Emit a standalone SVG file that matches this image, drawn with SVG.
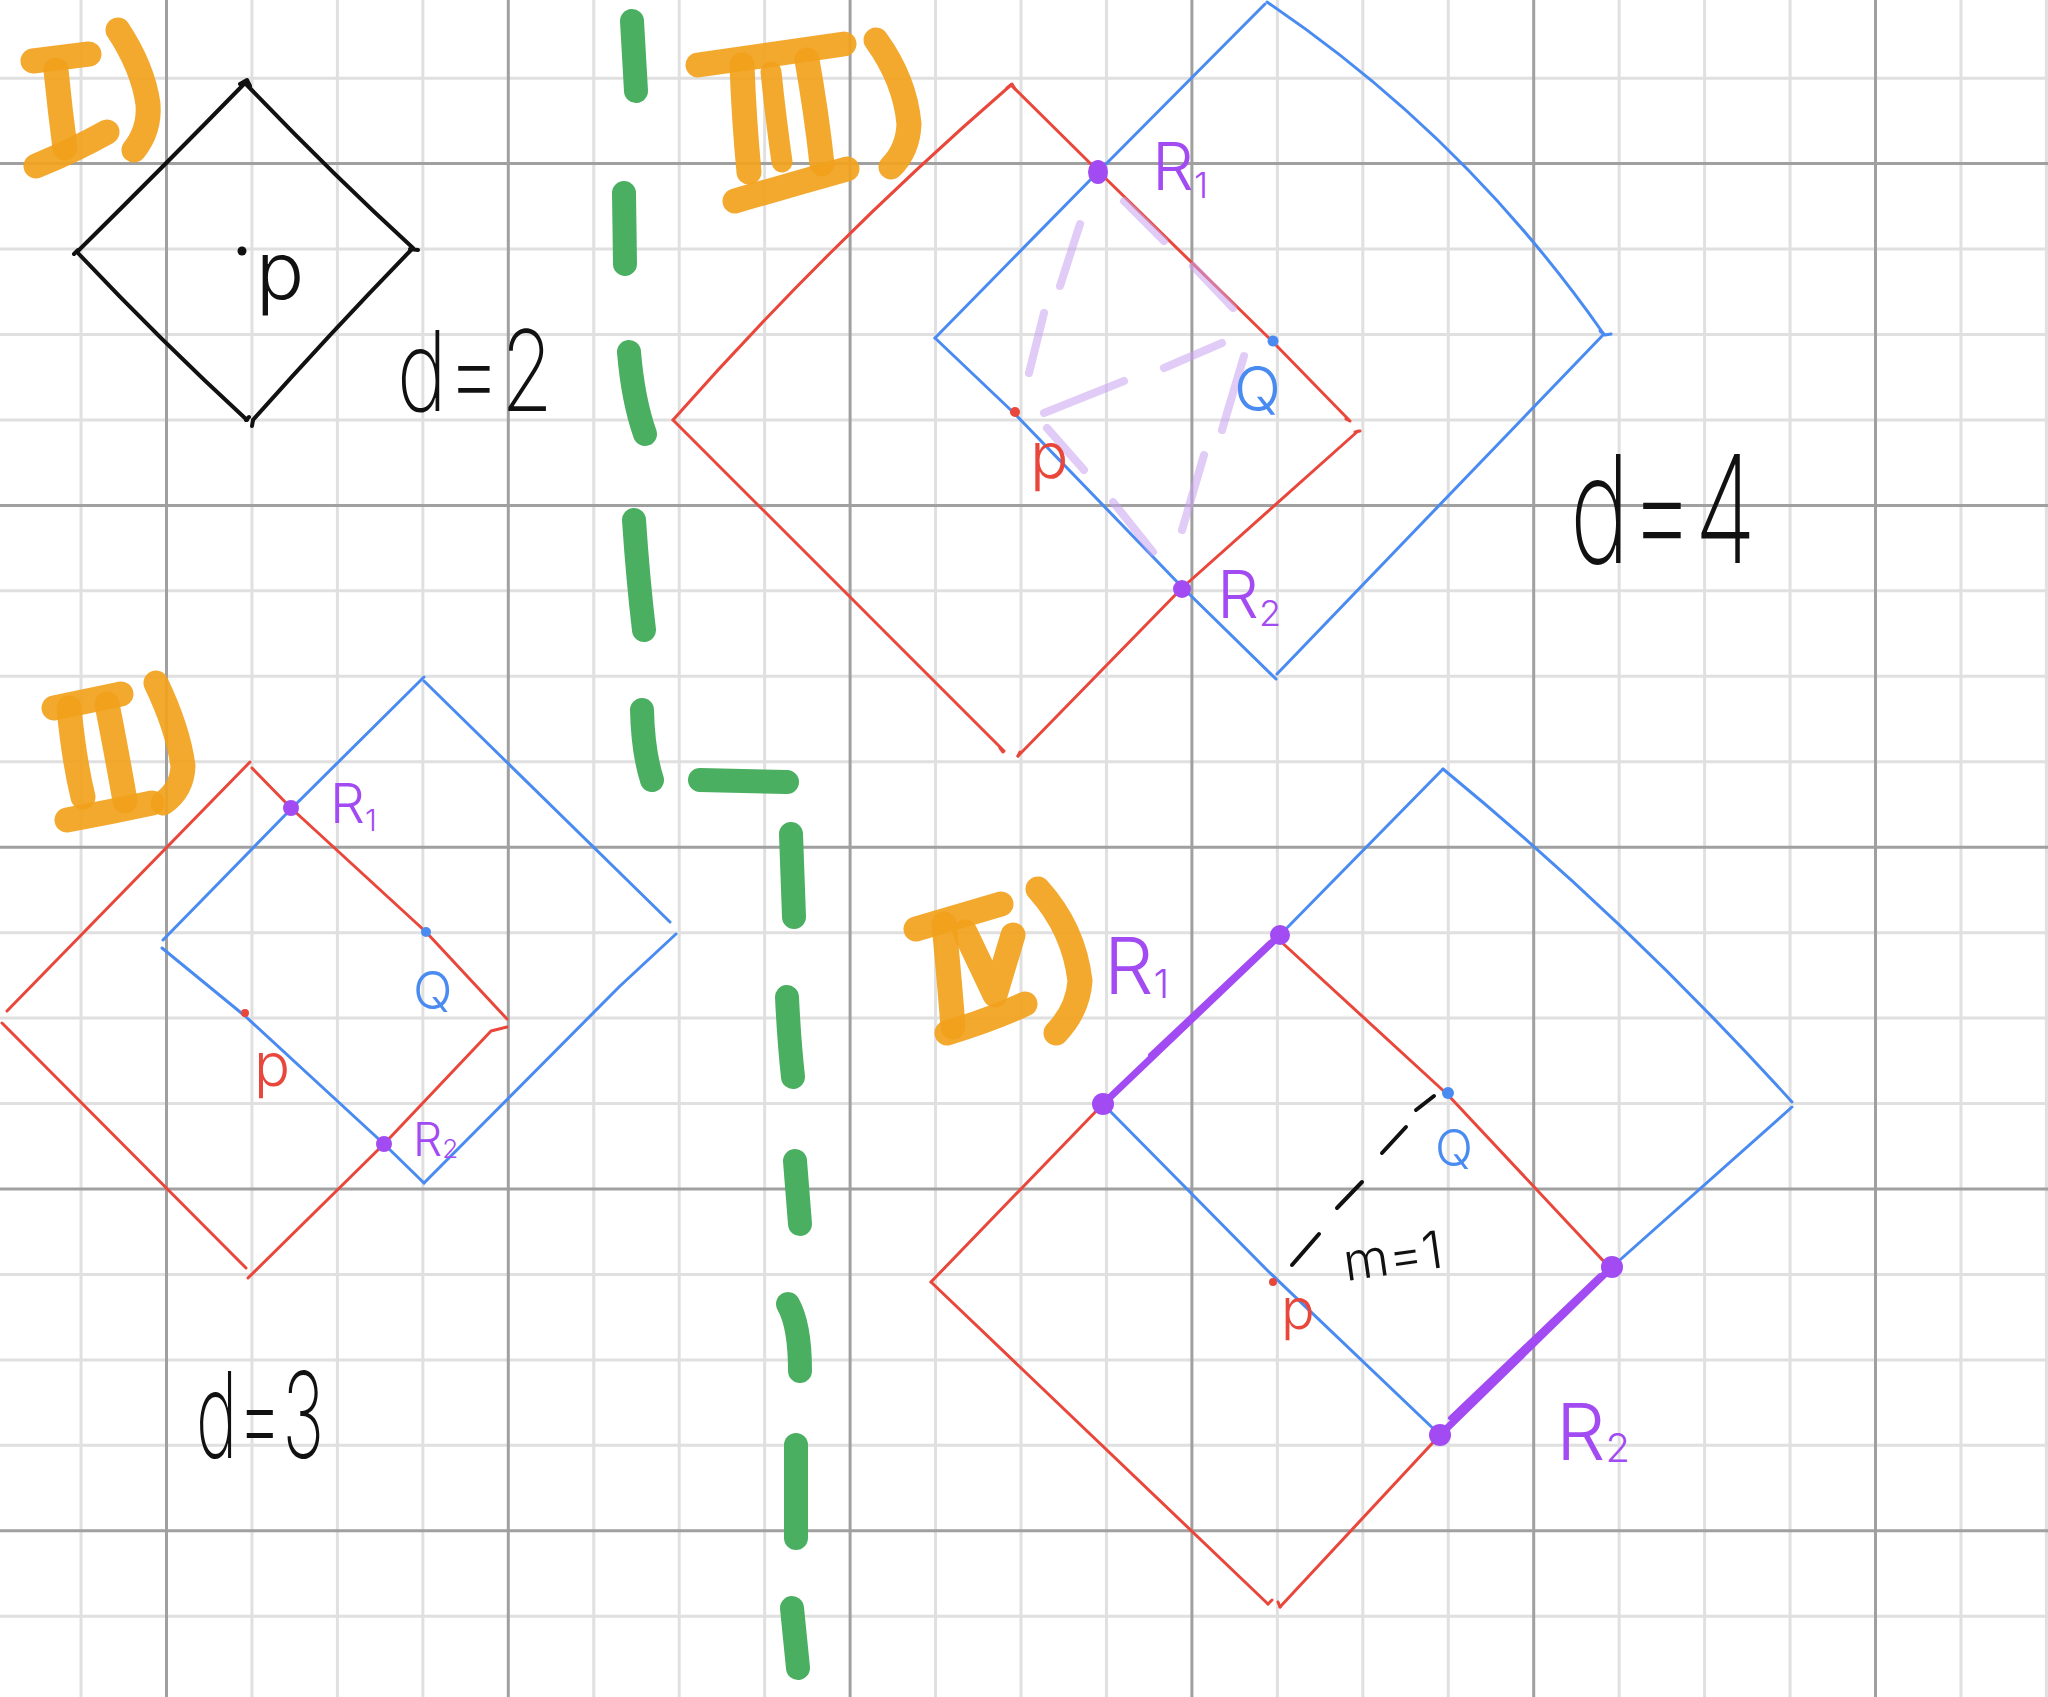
<svg xmlns="http://www.w3.org/2000/svg" width="2048" height="1697" viewBox="0 0 2048 1697">
<style>
.minor{fill:none;stroke:#e0e0e0;stroke-width:3}
.major{fill:none;stroke:#a0a0a0;stroke-width:3}
.red{fill:none;stroke:#E9473B;stroke-width:3;stroke-linecap:round;stroke-linejoin:round}
.blue{fill:none;stroke:#4A8BF2;stroke-width:3;stroke-linecap:round;stroke-linejoin:round}
.blk{fill:none;stroke:#111;stroke-width:4;stroke-linecap:round;stroke-linejoin:round}
.orange{fill:none;stroke:#F2A11C;stroke-width:25;stroke-linecap:round;stroke-linejoin:round;opacity:.92}
.green{fill:none;stroke:#4BAF62;stroke-width:24;stroke-linecap:round;stroke-linejoin:round}
.pline{fill:none;stroke:#A24BF3;stroke-width:4;stroke-linecap:round}
.lav{fill:none;stroke:#C7A3F0;stroke-width:8;stroke-linecap:round;opacity:.55}
.dash{fill:none;stroke:#111;stroke-width:4;stroke-linecap:round}
.pdot{fill:#A24BF3}
.bdot{fill:#4A8BF2}
.rdot{fill:#E9473B}
.kdot{fill:#111}
text{font-family:Inter,"Open Sans","Liberation Sans",sans-serif;font-weight:300}
.big{font-weight:200}
.tk{fill:#111}
.tp{fill:#A24BF3}
.tb{fill:#4A8BF2}
.tr{fill:#E9473B}
</style>
<rect width="2048" height="1697" fill="#ffffff"/>
<g id="grid">
<path class="minor" d="M81.05 0V1697M251.95 0V1697M337.4 0V1697M422.85 0V1697M593.75 0V1697M679.2 0V1697M764.65 0V1697M935.55 0V1697M1021 0V1697M1106.45 0V1697M1277.35 0V1697M1362.8 0V1697M1448.25 0V1697M1619.15 0V1697M1704.6 0V1697M1790.05 0V1697M1960.95 0V1697M2046.4 0V1697"/>
<path class="minor" d="M0 78.15H2048M0 249.05H2048M0 334.5H2048M0 419.95H2048M0 590.85H2048M0 676.3H2048M0 761.75H2048M0 932.65H2048M0 1018.1H2048M0 1103.55H2048M0 1274.45H2048M0 1359.9H2048M0 1445.35H2048M0 1616.25H2048"/>
<path class="major" d="M166.5 0V1697M508.3 0V1697M850.1 0V1697M1191.9 0V1697M1533.7 0V1697M1875.5 0V1697M0 163.6H2048M0 505.4H2048M0 847.2H2048M0 1189H2048M0 1530.8H2048"/>
</g>
<g id="divider">
<path class="green" d="M632 21L636 91"/>
<path class="green" d="M624 193L625 264"/>
<path class="green" d="M629 352Q633 400 645 434"/>
<path class="green" d="M634 520Q638 580 644 630"/>
<path class="green" d="M642 710Q643 752 652 780"/>
<path class="green" d="M700 780L787 782"/>
<path class="green" d="M791 834L794 917"/>
<path class="green" d="M787 997Q789 1040 793 1077"/>
<path class="green" d="M795 1161L800 1224"/>
<path class="green" d="M788 1304Q800 1325 800 1371"/>
<path class="green" d="M796 1445L796 1538"/>
<path class="green" d="M792 1608L798 1668"/>
</g>
<g id="panel-I">
<path class="orange" d="M33 61L89 54"/>
<path class="orange" d="M56 70Q60 110 65 148"/>
<path class="orange" d="M36 166Q75 150 107 132"/>
<path class="orange" d="M118 30Q143 68 148 104Q150 130 134 150"/>
<path class="blk" d="M245 83Q165 165 77 252Q160 340 247 420"/>
<path class="blk" d="M245 83Q330 172 413 248Q333 330 253 420"/>
<path class="blk" d="M240 84L247 80L250 86M74 254L78 250M410 249L418 250M246 420L249 417M253 420L252 426"/>
<circle class="kdot" cx="242" cy="251" r="4.5"/>
<text class="tk" x="256" y="299" font-size="80">p</text>
<text class="tk big" x="397" y="411" font-size="112" textLength="156" lengthAdjust="spacingAndGlyphs">d=2</text>
</g>
<g id="panel-II">
<path class="orange" d="M54 708L121 694"/>
<path class="orange" d="M69 708Q74 760 83 797"/>
<path class="orange" d="M107 704Q118 760 125 801"/>
<path class="orange" d="M67 820Q110 812 152 803"/>
<path class="orange" d="M156 683Q178 729 183 766Q182 790 163 803"/>
<polyline class="red" points="250,762 7,1011"/>
<polyline class="red" points="2,1023 246,1268"/>
<polyline class="red" points="252,768 291,808 426,932 507,1019"/>
<polyline class="red" points="507,1027 491,1031 384,1144 248,1278"/>
<polyline class="blue" points="424,677 291,809 163,940"/>
<polyline class="blue" points="162,948 245,1016 384,1144 424,1183"/>
<polyline class="blue" points="424,681 670,922"/>
<polyline class="blue" points="676,934 620,986 424,1183"/>
<circle class="pdot" cx="291" cy="808" r="8"/>
<circle class="pdot" cx="384" cy="1144" r="8"/>
<circle class="bdot" cx="426" cy="932" r="5"/>
<circle class="rdot" cx="245" cy="1013" r="4"/>
<text class="tp" x="330" y="823" font-size="55">R<tspan font-size="30" dy="8">1</tspan></text>
<text class="tb" x="413" y="1009" font-size="52">Q</text>
<text class="tr" x="254" y="1086" font-size="60">p</text>
<text class="tp" x="413" y="1156" font-size="46">R<tspan font-size="26" dy="2">2</tspan></text>
<text class="tk big" x="196" y="1458" font-size="120" textLength="128" lengthAdjust="spacingAndGlyphs">d=3</text>
</g>
<g id="panel-III">
<path class="orange" d="M698 65L844 44"/>
<path class="orange" d="M742 65Q744 120 749 172"/>
<path class="orange" style="stroke-width:21" d="M771 72Q776 120 782 162"/>
<path class="orange" d="M807 60Q816 110 822 164"/>
<path class="orange" d="M735 201Q790 185 847 169"/>
<path class="orange" d="M876 40Q905 80 909 124Q908 150 891 167"/>
<path class="red" d="M1011 85Q831 241 673 420"/>
<polyline class="red" points="673,420 1004,751"/>
<polyline class="red" points="1011,85 1098,171 1273,342 1349,420"/>
<polyline class="red" points="1358,431 1182,588 1018,756"/>
<polyline class="blue" points="1265,4 1098,172 935,338"/>
<polyline class="blue" points="935,338 1015,414 1182,587 1276,679"/>
<path class="blue" d="M1267 2Q1465 136 1603 333"/>
<polyline class="blue" points="1603,335 1277,674"/>
<path class="blue" d="M1600 331L1605 335L1611 334"/>
<path class="red" d="M1007 88L1012 84L1015 89M1346 419L1350 421M1355 432L1360 431M1003 752L1000 748M1018 756L1020 752"/>
<path class="lav" d="M1124 201L1164 241M1193 266L1233 308M1080 224L1060 286M1044 313L1029 373M1044 413L1124 381M1164 368L1222 343M1244 356L1222 430M1204 455L1182 530M1047 428L1084 470M1113 502L1153 552"/>
<ellipse class="pdot" cx="1098" cy="172" rx="10" ry="12"/>
<circle class="pdot" cx="1182" cy="589" r="9"/>
<circle class="bdot" cx="1273" cy="341" r="5.5"/>
<circle class="rdot" cx="1015" cy="412" r="5"/>
<text class="tp" x="1152" y="190" font-size="66">R<tspan font-size="36" dy="8">1</tspan></text>
<text class="tp" x="1217" y="618" font-size="66">R<tspan font-size="36" dy="8">2</tspan></text>
<text class="tb" x="1234" y="411" font-size="62">Q</text>
<text class="tr" x="1030" y="478" font-size="64">p</text>
<text class="tk big" x="1570" y="563" font-size="150" textLength="186" lengthAdjust="spacingAndGlyphs">d=4</text>
</g>
<g id="panel-IV">
<path class="orange" d="M916 929L1001 904"/>
<path class="orange" d="M944 924Q950 987 953 1027"/>
<path class="orange" d="M965 932L995 995L1013 935"/>
<path class="orange" d="M947 1033Q990 1020 1025 1004"/>
<path class="orange" d="M1038 889Q1074 929 1080 981Q1078 1010 1056 1033"/>
<polyline class="blue" points="1443,769 1280,935 1103,1104"/>
<path class="blue" d="M1443 769Q1628 921 1792 1102"/>
<polyline class="blue" points="1792,1107 1612,1267 1440,1435"/>
<polyline class="blue" points="1103,1104 1268,1271 1440,1435"/>
<polyline class="red" points="1277,938 1103,1104 931,1282"/>
<polyline class="red" points="931,1282 1268,1604"/>
<polyline class="red" points="1277,938 1448,1095 1610,1268"/>
<polyline class="red" points="1610,1268 1440,1435 1280,1607"/>
<path class="red" d="M1268 1604L1272 1600M1280 1607L1278 1602"/>
<path class="pline" style="stroke-width:7" d="M1103 1104L1280 935"/>
<path class="pline" d="M1108 1100L1284 930M1098 1108L1275 940M1150 1055L1270 942"/>
<path class="pline" style="stroke-width:7" d="M1440 1435L1612 1267"/>
<path class="pline" d="M1445 1430L1616 1262M1436 1438L1607 1271M1450 1418L1600 1275"/>
<circle class="pdot" cx="1103" cy="1104" r="11"/>
<circle class="pdot" cx="1280" cy="935" r="10"/>
<circle class="pdot" cx="1612" cy="1267" r="11"/>
<circle class="pdot" cx="1440" cy="1435" r="11"/>
<circle class="bdot" cx="1448" cy="1093" r="6"/>
<circle class="rdot" cx="1273" cy="1282" r="4"/>
<path class="dash" d="M1292 1265L1319 1234M1337 1208L1362 1182M1382 1153L1406 1127M1416 1110L1434 1096"/>
<text class="tp" x="1104" y="994" font-size="78">R<tspan font-size="40" dy="4">1</tspan></text>
<text class="tp" x="1556" y="1460" font-size="78">R<tspan font-size="40" dy="2">2</tspan></text>
<text class="tb" x="1435" y="1166" font-size="50">Q</text>
<text class="tr" x="1281" y="1329" font-size="56">p</text>
<text class="tk" x="1346" y="1281" font-size="52" transform="rotate(-8 1346 1281)">m=1</text>
</g>
</svg>
